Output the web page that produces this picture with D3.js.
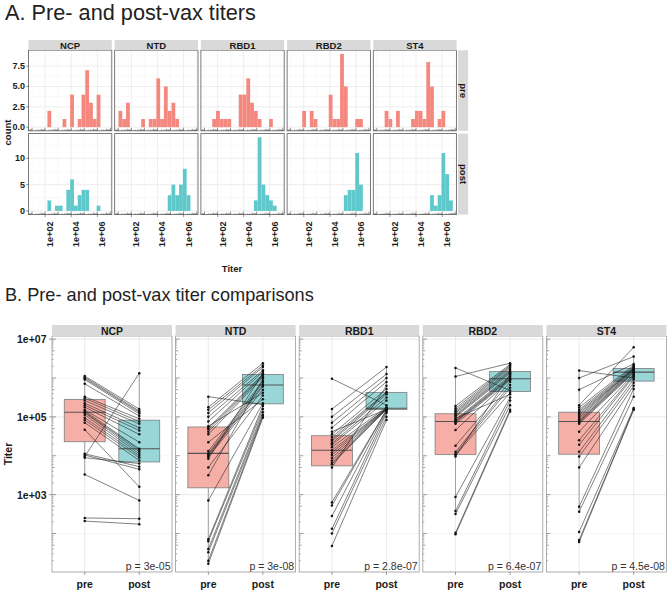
<!DOCTYPE html>
<html><head><meta charset="utf-8">
<script src="https://cdn.jsdelivr.net/npm/d3@7"></script>
<style>
body{margin:0;background:#fff}
svg{display:block}
text{font-family:"Liberation Sans",Arial,Helvetica,sans-serif}
</style>
</head><body>
<svg id="c" width="669" height="593"></svg>
<script>
// ---------------- DATA ----------------
const antigens = ["NCP", "NTD", "RBD1", "RBD2", "ST4"];
const groups = ["pre", "post"];
const pValues = ["3e-05", "3e-08", "2.8e-07", "6.4e-07", "4.5e-08"];

// Panel A: histogram counts (20 bins on log10 titer)
const histBinStartLog10 = 1.015;
const histBinWidthLog10 = 0.29;
const histPreNCP  = [0,0,0,0,2,0,0,0,1,0,4,0,1,4,7,3,1,4,0,0];
const histPreNTD  = [2,1,3,0,0,0,1,0,1,1,6,1,5,2,3,1,0,0,0,0];
const histPreRBD1 = [0,0,1,2,1,1,1,0,0,4,4,6,3,2,1,0,0,1,0,0];
const histPreRBD2 = [0,0,0,2,0,2,1,0,0,0,4,1,1,9,5,0,0,1,1,0];
const histPreST4  = [0,0,2,1,0,2,0,0,0,1,2,2,1,8,5,0,1,2,0,0];
const histPostNCP  = [0,0,0,0,2,0,1,1,0,4,6,1,3,4,4,0,0,1,0,0];
const histPostNTD  = [0,0,0,0,0,0,0,0,0,0,0,0,0,3,5,3,5,8,3,0];
const histPostRBD1 = [0,0,0,0,0,0,0,0,0,0,0,0,0,2,14,5,3,2,1,0];
const histPostRBD2 = [0,0,0,0,0,0,0,0,0,0,0,0,0,0,3,4,4,11,5,0];
const histPostST4  = [0,0,0,0,0,0,0,0,0,0,0,0,0,0,3,1,3,11,7,2];
const histPreTicks = [0, 2.5, 5, 7.5];
const histPostTicks = [0, 5, 10];
const histXTicks = [1e2, 1e4, 1e6];
const histXTickLabels = ["1e+02", "1e+04", "1e+06"];

// Panel B: paired log10 titers, one entry per subject (pre[i] -> post[i])
const preNCP  = [2.32,2.40,3.52,3.95,3.98,4.02,4.05,4.67,4.85,4.92,4.98,5.05,5.10,5.12,5.15,5.18,5.25,5.30,5.35,5.42,5.48,5.52,5.85,5.96,5.99,6.02,6.05];
const postNCP = [2.24,2.38,2.85,3.80,6.12,3.65,3.72,3.20,3.88,3.95,4.00,4.05,4.10,4.15,4.18,4.35,4.55,4.65,4.72,4.82,4.88,4.95,5.02,5.08,5.12,5.15,5.20];
const preNTD  = [1.22,1.30,1.52,1.60,1.80,1.85,2.85,3.50,3.70,3.92,3.97,4.00,4.03,4.06,4.12,4.35,4.55,4.62,4.68,4.72,4.76,4.88,5.00,5.10,5.18,5.25,5.52];
const postNTD = [4.98,5.02,5.05,5.12,5.20,5.28,5.35,5.98,5.55,6.12,5.70,5.78,5.82,5.88,5.92,5.45,6.02,6.05,6.08,6.10,5.62,6.16,6.20,6.28,6.32,6.38,5.32];
const preRBD1  = [1.68,2.00,2.12,2.45,2.72,2.80,3.70,3.78,3.82,3.88,3.95,4.02,4.08,4.14,4.22,4.28,4.32,4.38,4.42,4.48,4.55,4.62,4.72,4.85,5.00,5.20,5.98];
const postRBD1 = [4.92,5.00,5.10,5.14,5.17,5.18,5.80,5.19,5.20,5.20,5.21,5.21,5.22,5.22,5.25,5.42,5.50,5.58,5.62,5.64,5.72,5.19,5.90,6.00,6.10,6.28,5.30];
const preRBD2  = [1.98,2.02,2.50,2.58,2.94,3.98,4.02,4.05,4.10,4.26,4.66,4.82,4.86,4.88,4.90,4.93,4.96,5.00,5.03,5.06,5.10,5.13,5.17,5.22,5.28,6.04,6.26];
const postRBD2 = [5.14,5.18,5.30,5.42,5.50,6.09,5.62,5.75,5.82,5.90,5.95,5.96,5.98,6.00,6.03,6.06,5.58,6.12,6.15,6.18,6.21,6.26,6.29,6.32,6.35,6.38,5.68];
const preST4  = [1.78,1.83,2.04,2.56,2.69,3.70,3.98,4.10,4.28,4.40,4.62,4.82,4.85,4.88,4.90,4.94,4.98,5.02,5.06,5.10,5.14,5.18,5.24,5.30,5.70,6.00,6.19];
const postST4 = [5.18,5.20,5.23,5.52,5.72,5.80,5.88,5.96,6.04,6.07,6.10,6.13,6.15,6.17,6.19,6.21,6.23,6.24,6.24,6.25,6.27,6.30,6.33,6.79,6.36,6.55,6.00];
const titerTicks = [1e3, 1e5, 1e7];
const titerTickLabels = ["1e+03", "1e+05", "1e+07"];

// ---------------- BUILD TABLES ----------------
const histPre = [histPreNCP, histPreNTD, histPreRBD1, histPreRBD2, histPreST4];
const histPost = [histPostNCP, histPostNTD, histPostRBD1, histPostRBD2, histPostST4];
const preAll = [preNCP, preNTD, preRBD1, preRBD2, preST4];
const postAll = [postNCP, postNTD, postRBD1, postRBD2, postST4];

const svg = d3.select("#c");
const colPre = "#f4877e", colPost = "#5ec8cb";
const boxPre = "#f6afa7", boxPost = "#98d6d8";

// ---------------- TITLES (fitted to the measured widths) ----------------
function fitTitle(txt, x, y, targetW) {
  const t = svg.append("text").attr("x", x).attr("y", y).attr("font-size", 18).attr("fill", "#222").text(txt);
  const w = t.node().getComputedTextLength();
  if (w > 0) t.attr("font-size", 18 * targetW / w);
  return t;
}
fitTitle("A. Pre- and post-vax titers", 5, 20, 251);
fitTitle("B. Pre- and post-vax titer comparisons", 5, 301, 309);

// ---------------- PANEL A ----------------
const aX0 = 28.5, aStep = 86.2, aW = 83.3;
const aRows = [
  {g: "pre", y0: 50.3, y1: 130.8, dom: [-0.45, 9.45], ticks: histPreTicks, fmt: d3.format(".1f"), fill: colPre, table: histPre},
  {g: "post", y0: 133.6, y1: 214.6, dom: [-0.7, 14.7], ticks: histPostTicks, fmt: d3.format("d"), fill: colPost, table: histPost}
];
const logTickVals = [];
for (let d = 0; d <= 7; d++) for (let k = 1; k <= 9; k++) logTickVals.push({v: k * Math.pow(10, d), k});

aRows.forEach((row, r) => {
  const ys = d3.scaleLinear().domain(row.dom).range([row.y1, row.y0]);
  const tickStep = row.ticks[1] - row.ticks[0];
  const minorY = d3.range(tickStep / 2, row.dom[1], tickStep);
  antigens.forEach((ag, i) => {
    const x0 = aX0 + i * aStep;
    const hx = d3.scaleLog().domain([Math.pow(10, 0.725), Math.pow(10, 7.105)]).range([x0, x0 + aW]);
    const g = svg.append("g");
    g.append("rect").attr("x", x0).attr("y", row.y0).attr("width", aW).attr("height", row.y1 - row.y0).attr("fill", "#fff");
    // minor grid
    minorY.forEach(v => g.append("line").attr("x1", x0).attr("x2", x0 + aW).attr("y1", ys(v)).attr("y2", ys(v)).attr("stroke", "#f2f2f2").attr("stroke-width", 0.5));
    [1e1, 1e3, 1e5, 1e7].forEach(v => g.append("line").attr("x1", hx(v)).attr("x2", hx(v)).attr("y1", row.y0).attr("y2", row.y1).attr("stroke", "#f2f2f2").attr("stroke-width", 0.5));
    // major grid
    row.ticks.forEach(v => g.append("line").attr("x1", x0).attr("x2", x0 + aW).attr("y1", ys(v)).attr("y2", ys(v)).attr("stroke", "#e3e3e3").attr("stroke-width", 0.6));
    histXTicks.forEach(v => g.append("line").attr("x1", hx(v)).attr("x2", hx(v)).attr("y1", row.y0).attr("y2", row.y1).attr("stroke", "#e3e3e3").attr("stroke-width", 0.6));
    // bars
    const counts = row.table[i];
    const bins = counts.map((c, k) => ({
      c,
      lo: Math.pow(10, histBinStartLog10 + k * histBinWidthLog10),
      hi: Math.pow(10, histBinStartLog10 + (k + 1) * histBinWidthLog10)
    })).filter(b => b.c > 0);
    g.selectAll("rect.bar").data(bins).enter().append("rect")
      .attr("x", b => hx(b.lo)).attr("width", b => hx(b.hi) - hx(b.lo))
      .attr("y", b => ys(b.c)).attr("height", b => ys(0) - ys(b.c))
      .attr("fill", row.fill);
    // log ticks at bottom
    logTickVals.filter(t => t.v >= hx.domain()[0] && t.v <= hx.domain()[1]).forEach(t => {
      const len = t.k === 1 ? 3 : (t.k === 5 ? 2 : 1.2);
      g.append("line").attr("x1", hx(t.v)).attr("x2", hx(t.v)).attr("y1", row.y1).attr("y2", row.y1 - len)
        .attr("stroke", "#333").attr("stroke-width", 0.5);
    });
    // border
    g.append("rect").attr("x", x0).attr("y", row.y0).attr("width", aW).attr("height", row.y1 - row.y0)
      .attr("fill", "none").attr("stroke", "#5a5a5a").attr("stroke-width", 0.8);
    // top strips
    if (r === 0) {
      svg.append("rect").attr("x", x0).attr("y", 40).attr("width", aW).attr("height", row.y0 - 40).attr("fill", "#d9d9d9");
      svg.append("text").attr("x", x0 + aW / 2).attr("y", 45.4).attr("dominant-baseline", "central")
        .attr("text-anchor", "middle").attr("font-size", 9.5).attr("font-weight", "bold").attr("fill", "#1a1a1a").text(ag);
    }
    // y axis
    if (i === 0) {
      row.ticks.forEach(v => {
        svg.append("line").attr("x1", x0 - 2.5).attr("x2", x0).attr("y1", ys(v)).attr("y2", ys(v)).attr("stroke", "#333").attr("stroke-width", 0.5);
        svg.append("text").attr("x", x0 - 3.5).attr("y", ys(v)).attr("dominant-baseline", "central").attr("text-anchor", "end")
          .attr("font-size", 9).attr("font-weight", "bold").attr("fill", "#1a1a1a").text(row.fmt(v));
      });
    }
    // x axis
    if (r === 1) {
      histXTicks.forEach((v, t) => {
        svg.append("line").attr("x1", hx(v)).attr("x2", hx(v)).attr("y1", row.y1).attr("y2", row.y1 + 2.5).attr("stroke", "#333").attr("stroke-width", 0.5);
        svg.append("text").attr("transform", `translate(${hx(v) + 5},${row.y1 + 7}) rotate(-90)`)
          .attr("dominant-baseline", "central").attr("text-anchor", "end")
          .attr("font-size", 9).attr("font-weight", "bold").attr("fill", "#1a1a1a").text(histXTickLabels[t]);
      });
    }
    // right strips
    if (i === antigens.length - 1) {
      svg.append("rect").attr("x", x0 + aW + 1.5).attr("y", row.y0).attr("width", 10).attr("height", row.y1 - row.y0).attr("fill", "#d9d9d9");
      svg.append("text").attr("transform", `translate(${x0 + aW + 6.5},${(row.y0 + row.y1) / 2}) rotate(90)`)
        .attr("dominant-baseline", "central").attr("text-anchor", "middle")
        .attr("font-size", 9.5).attr("font-weight", "bold").attr("fill", "#1a1a1a").text(row.g);
    }
  });
});
svg.append("text").attr("transform", "translate(7,132.5) rotate(-90)").attr("dominant-baseline", "central")
  .attr("text-anchor", "middle").attr("font-size", 9.5).attr("font-weight", "bold").attr("fill", "#1a1a1a").text("count");
svg.append("text").attr("x", 232).attr("y", 271.5).attr("text-anchor", "middle")
  .attr("font-size", 9.5).attr("font-weight", "bold").attr("fill", "#1a1a1a").text("Titer");

// ---------------- PANEL B ----------------
const bX0 = 52, bStep = 123.6, bW = 120, bY0 = 336, bY1 = 572, stripTop = 325;
const yb = d3.scaleLog().domain([Math.pow(10, 1.01), Math.pow(10, 7.08)]).range([bY1, bY0]);
const majorB = [1e3, 1e5, 1e7], minorB = [1e2, 1e4, 1e6];

antigens.forEach((ag, i) => {
  const x0 = bX0 + i * bStep;
  const xs = d3.scalePoint().domain(groups).range([x0, x0 + bW]).padding(0.6);
  const step = xs.step();
  const g = svg.append("g");
  g.append("rect").attr("x", x0).attr("y", bY0).attr("width", bW).attr("height", bY1 - bY0).attr("fill", "#fff");
  minorB.forEach(v => g.append("line").attr("x1", x0).attr("x2", x0 + bW).attr("y1", yb(v)).attr("y2", yb(v)).attr("stroke", "#f0f0f0").attr("stroke-width", 0.6));
  majorB.forEach(v => g.append("line").attr("x1", x0).attr("x2", x0 + bW).attr("y1", yb(v)).attr("y2", yb(v)).attr("stroke", "#e3e3e3").attr("stroke-width", 0.8));
  groups.forEach(gr => g.append("line").attr("x1", xs(gr)).attr("x2", xs(gr)).attr("y1", bY0).attr("y2", bY1).attr("stroke", "#e6e6e6").attr("stroke-width", 0.8));

  // boxplots
  [preAll[i], postAll[i]].forEach((vals, gi) => {
    const sorted = vals.slice().sort(d3.ascending);
    const q1 = d3.quantile(sorted, 0.25), med = d3.quantile(sorted, 0.5), q3 = d3.quantile(sorted, 0.75);
    const iqr = q3 - q1;
    const lo = d3.min(sorted.filter(v => v >= q1 - 1.5 * iqr));
    const hi = d3.max(sorted.filter(v => v <= q3 + 1.5 * iqr));
    const cx = xs(groups[gi]), bw = step * 0.75;
    const T = v => yb(Math.pow(10, v));
    g.append("line").attr("x1", cx).attr("x2", cx).attr("y1", T(q3)).attr("y2", T(hi)).attr("stroke", "#808080").attr("stroke-width", 0.7);
    g.append("line").attr("x1", cx).attr("x2", cx).attr("y1", T(q1)).attr("y2", T(lo)).attr("stroke", "#808080").attr("stroke-width", 0.7);
    g.append("rect").attr("x", cx - bw / 2).attr("width", bw).attr("y", T(q3)).attr("height", T(q1) - T(q3))
      .attr("fill", gi === 0 ? boxPre : boxPost).attr("stroke", "#7d7d7d").attr("stroke-width", 0.8);
    g.append("line").attr("x1", cx - bw / 2).attr("x2", cx + bw / 2).attr("y1", T(med)).attr("y2", T(med)).attr("stroke", "#555").attr("stroke-width", 1.1);
  });

  // paired lines and points
  const pairs = preAll[i].map((p, j) => ({pre: Math.pow(10, p), post: Math.pow(10, postAll[i][j])}));
  g.selectAll("line.pair").data(pairs).enter().append("line")
    .attr("x1", xs("pre")).attr("x2", xs("post")).attr("y1", d => yb(d.pre)).attr("y2", d => yb(d.post))
    .attr("stroke", "#1a1a1a").attr("stroke-width", 0.55);
  groups.forEach(gr => {
    g.selectAll("circle." + gr).data(pairs).enter().append("circle")
      .attr("cx", xs(gr)).attr("cy", d => yb(d[gr])).attr("r", 1.25).attr("fill", "#111");
  });

  // log ticks on left
  logTickVals.filter(t => t.v >= yb.domain()[0] && t.v <= yb.domain()[1]).forEach(t => {
    const len = t.k === 1 ? 4 : (t.k === 5 ? 2.6 : 1.5);
    g.append("line").attr("x1", x0).attr("x2", x0 + len).attr("y1", yb(t.v)).attr("y2", yb(t.v)).attr("stroke", "#444").attr("stroke-width", 0.5);
  });

  // p-value
  g.append("text").attr("x", x0 + bW - 1.5).attr("y", 569.5).attr("text-anchor", "end")
    .attr("font-size", 10.5).attr("fill", "#333").text("p = " + pValues[i]);

  // border
  g.append("rect").attr("x", x0).attr("y", bY0).attr("width", bW).attr("height", bY1 - bY0)
    .attr("fill", "none").attr("stroke", "#9a9a9a").attr("stroke-width", 0.8);
  // strip
  svg.append("rect").attr("x", x0).attr("y", stripTop).attr("width", bW).attr("height", bY0 - stripTop).attr("fill", "#d9d9d9");
  svg.append("text").attr("x", x0 + bW / 2).attr("y", (stripTop + bY0) / 2 + 0.3).attr("dominant-baseline", "central")
    .attr("text-anchor", "middle").attr("font-size", 10.5).attr("font-weight", "bold").attr("fill", "#1a1a1a").text(ag);
  // x axis
  groups.forEach(gr => {
    svg.append("line").attr("x1", xs(gr)).attr("x2", xs(gr)).attr("y1", bY1).attr("y2", bY1 + 3).attr("stroke", "#444").attr("stroke-width", 0.5);
    svg.append("text").attr("x", xs(gr)).attr("y", 588).attr("text-anchor", "middle")
      .attr("font-size", 10.5).attr("font-weight", "bold").attr("fill", "#1a1a1a").text(gr);
  });
  // y axis
  if (i === 0) {
    titerTicks.forEach((v, t) => {
      svg.append("line").attr("x1", x0 - 3).attr("x2", x0).attr("y1", yb(v)).attr("y2", yb(v)).attr("stroke", "#444").attr("stroke-width", 0.5);
      svg.append("text").attr("x", x0 - 5.5).attr("y", yb(v)).attr("dominant-baseline", "central").attr("text-anchor", "end")
        .attr("font-size", 10.5).attr("font-weight", "bold").attr("fill", "#1a1a1a").text(titerTickLabels[t]);
    });
  }
});
svg.append("text").attr("transform", `translate(7.5,${(bY0 + bY1) / 2}) rotate(-90)`).attr("dominant-baseline", "central")
  .attr("text-anchor", "middle").attr("font-size", 10.5).attr("font-weight", "bold").attr("fill", "#1a1a1a").text("Titer");
</script>
</body></html>
